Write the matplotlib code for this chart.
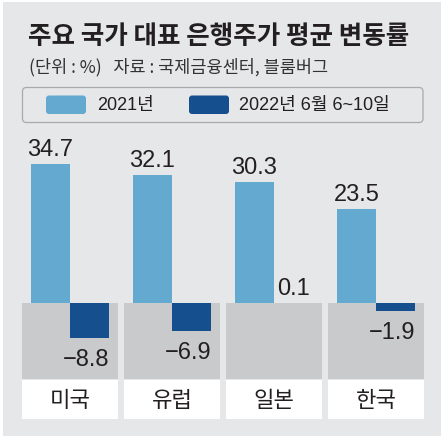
import matplotlib
matplotlib.use('Agg')
import matplotlib.pyplot as plt
from matplotlib import font_manager
from matplotlib.patches import Rectangle, FancyBboxPatch

# data
countries = ['미국', '유럽', '일본', '한국']
val_2021 = [34.7, 32.1, 30.3, 23.5]
val_2022 = [-8.8, -6.9, 0.1, -1.9]
series_names = ['2021년', '2022년 6월 6~10일']

title = '주요 국가 대표 은행주가 평균 변동률'
subtitle = '(단위 : %)   자료 : 국제금융센터, 블룸버그'

light = '#64a9cf'
dark = '#164f8e'
bg = '#e6e7e9'
panel = '#c9cacc'

installed = {f.name for f in font_manager.fontManager.ttflist}
KR = ['Noto Sans CJK KR', 'DejaVu Sans']
if 'Liberation Sans Narrow' in installed:
    NUM = ['Liberation Sans Narrow', 'DejaVu Sans']
    num_size = 19
else:
    NUM = ['Liberation Sans', 'DejaVu Sans']
    num_size = 17
MIX = ['Liberation Sans', 'Noto Sans CJK KR', 'DejaVu Sans']

W, H = 444, 439
fig = plt.figure(figsize=(W / 100, H / 100), dpi=100, facecolor='white')

# layout overlay in pixel coords
lay = fig.add_axes([0, 0, 1, 1])
lay.set_xlim(0, W)
lay.set_ylim(H, 0)
lay.axis('off')
lay.add_patch(Rectangle((3, 3), 438, 434, color=bg, lw=0))

lay.text(28, 36, title, fontsize=18.4, fontweight='bold', family=KR,
         color='#231f20', va='center', ha='left')
lay.text(29, 67, subtitle, fontsize=12.6, family=KR, color='#333333',
         va='center', ha='left')

# legend
lay.add_patch(FancyBboxPatch((22.5, 88.5), 400.5, 35, boxstyle='round,pad=0,rounding_size=4',
                             fc=bg, ec='#a9aaac', lw=0.9))
for px, tx, col, name in [(46, 97, light, series_names[0]), (189, 239, dark, series_names[1])]:
    lay.add_patch(FancyBboxPatch((px, 96.5), 40, 18.5, boxstyle='round,pad=0,rounding_size=3',
                                 fc=col, ec='none'))
    lay.text(tx, 106, name, fontsize=13, family=MIX, color='#231f20',
             va='center', ha='left')

# chart axes
ax = fig.add_axes([22 / W, 19 / H, 402 / W, 290 / H])
ax.set_xlim(-0.4706, len(countries) - 1 + 0.4706)
ax.set_ylim(-29, 43.5)
ax.axis('off')
ax.patch.set_alpha(0)

x = list(range(len(countries)))
bw = 0.385
ax.bar(x, [-19] * len(x), width=0.941, color=panel, lw=0)
ax.bar(x, [-10] * len(x), bottom=-19.2, width=0.941, color='white', lw=0)

ax.bar([i - bw / 2 for i in x], val_2021, width=bw, color=light, lw=0)
cols2 = [dark if v < 0 else '#9a9cc0' for v in val_2022]
ax.bar([i + bw / 2 for i in x], val_2022, width=bw, color=cols2, lw=0)

for i, v in enumerate(val_2021):
    ax.annotate(f'{v:.1f}', (i - bw / 2, v), xytext=(0, 15), textcoords='offset pixels',
                ha='center', va='center', fontsize=num_size, family=NUM, color='#231f20')
for i, v in enumerate(val_2022):
    if v >= 0:
        ax.annotate(f'{v:.1f}', (i + bw / 2, v), xytext=(0, 15), textcoords='offset pixels',
                    ha='center', va='center', fontsize=num_size, family=NUM, color='#231f20')
    else:
        ax.annotate(f'\u2212{abs(v):.1f}', (i + bw, v), xytext=(0, -21), textcoords='offset pixels',
                    ha='right', va='center', fontsize=num_size, family=NUM, color='#231f20')

for i, c in enumerate(countries):
    ax.text(i, -24.2, c, ha='center', va='center', fontsize=16, family=KR,
            color='#231f20', fontweight='medium' if c == '한국' else 'normal')

fig.savefig('out.png', dpi=100, facecolor='white')
